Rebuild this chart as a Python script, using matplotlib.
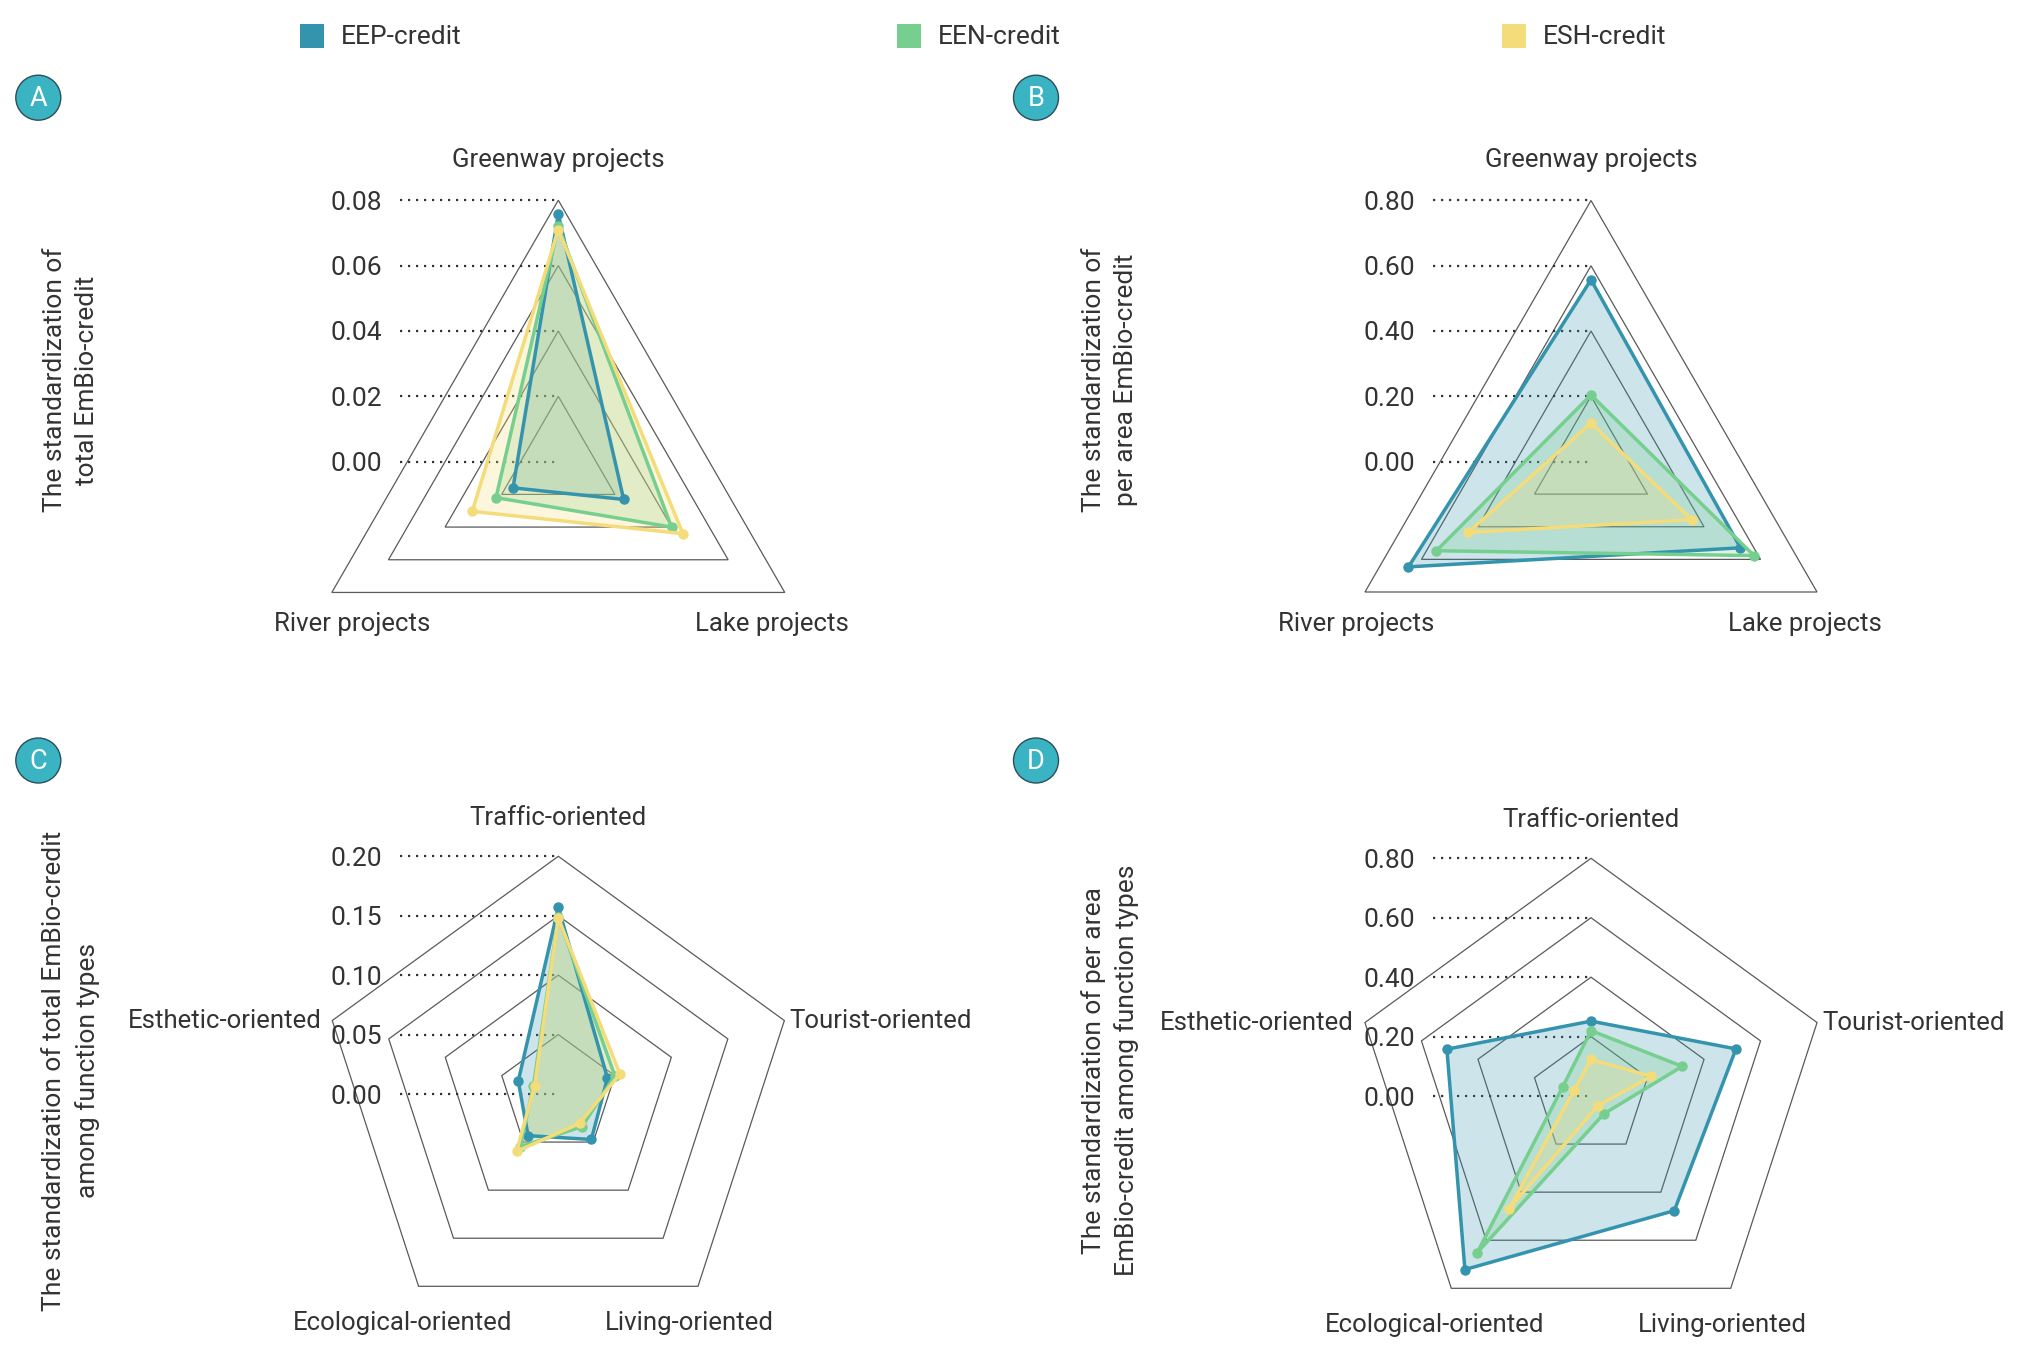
import numpy as np
import matplotlib
matplotlib.use("Agg")
import matplotlib.pyplot as plt
from matplotlib.patches import Circle, Rectangle, Polygon

plt.rcParams['font.family'] = ['Roboto', 'DejaVu Sans']

# ---------------- data ----------------
series_names = ["EEP-credit", "EEN-credit", "ESH-credit"]
series_colors = ["#3594ad", "#76cf8e", "#f5dc7a"]

proj_categories = ["Greenway projects", "River projects", "Lake projects"]
func_categories = ["Traffic-oriented", "Esthetic-oriented", "Ecological-oriented",
                   "Living-oriented", "Tourist-oriented"]

a_ticks = [0.00, 0.02, 0.04, 0.06, 0.08]
a_eep = [0.0757, 0.016, 0.0231]
a_een = [0.072, 0.022, 0.040]
a_esh = [0.071, 0.0304, 0.044]

b_ticks = [0.00, 0.20, 0.40, 0.60, 0.80]
b_eep = [0.557, 0.646, 0.529]
b_een = [0.204, 0.547, 0.577]
b_esh = [0.118, 0.435, 0.357]

c_ticks = [0.00, 0.05, 0.10, 0.15, 0.20]
c_eep = [0.157, 0.0354, 0.0433, 0.0473, 0.0435]
c_een = [0.149, 0.022, 0.055, 0.034, 0.050]
c_esh = [0.148, 0.021, 0.0598, 0.0305, 0.0545]

d_ticks = [0.00, 0.20, 0.40, 0.60, 0.80]
d_eep = [0.252, 0.51, 0.722, 0.477, 0.513]
d_een = [0.22, 0.10, 0.652, 0.074, 0.323]
d_esh = [0.123, 0.06, 0.471, 0.040, 0.214]

titles = {
    "A": "The standardization of\ntotal EmBio-credit",
    "B": "The standardization of\nper area EmBio-credit",
    "C": "The standardization of total EmBio-credit\namong function types",
    "D": "The standardization of per area\nEmBio-credit among function types",
}

W, H = 2027, 1359
fig = plt.figure(figsize=(W / 100, H / 100), dpi=100)
fig.patch.set_facecolor("white")

# overlay axes in pixel coordinates (for legend / badges / titles)
ov = fig.add_axes([0, 0, 1, 1])
ov.set_xlim(0, W)
ov.set_ylim(H, 0)
ov.axis("off")

TXT = "#333333"


def radar(letter, cx, cy, R, ticks, cats, series, title_pos, name_cfg):
    vmax = ticks[-1]
    S = R * 1.25
    ax = fig.add_axes([(cx - S) / W, 1 - (cy + S) / H, 2 * S / W, 2 * S / H])
    lim = vmax * S / R
    ax.set_xlim(-lim, lim)
    ax.set_ylim(-lim, lim)
    ax.axis("off")
    k = vmax / R  # value per pixel
    n = len(cats)
    ang = np.deg2rad(90 + 360.0 * np.arange(n) / n)
    # rings
    for t in ticks[1:]:
        pts = np.column_stack([t * np.cos(ang), t * np.sin(ang)])
        ax.add_patch(Polygon(pts, closed=True, fill=False, ec="#5a5a5a", lw=0.9,
                             zorder=1, clip_on=False))
    # dotted y-axis split lines + labels
    for t in ticks:
        ax.plot([-158 * k, -3 * k], [t, t], color="#333333", lw=1.6,
                linestyle=(0, (1, 2.6)), zorder=2, clip_on=False)
        ax.text(-176 * k, t - 2.5 * k, f"{t:.2f}", ha="right", va="center",
                fontsize=19, color=TXT, zorder=5)
    # series
    for vals, col in zip(series, series_colors):
        v = np.asarray(vals)
        xs = v * np.cos(ang)
        ys = v * np.sin(ang)
        ax.fill(np.append(xs, xs[0]), np.append(ys, ys[0]), color=col, alpha=0.25,
                lw=0, zorder=3, clip_on=False)
        ax.plot(np.append(xs, xs[0]), np.append(ys, ys[0]), color=col, lw=2.5,
                zorder=4, clip_on=False, solid_joinstyle="round")
        ax.plot(xs, ys, "o", color=col, ms=6.5, zorder=4, clip_on=False)
    # indicator names
    for name, (dx, dy, ha) in zip(cats, name_cfg):
        ax.text(dx * k, -dy * k, name, ha=ha, va="center", fontsize=18.5, color=TXT)
    # panel title (rotated)
    tx, ty = title_pos
    ov.text(tx, ty, titles[letter], rotation=90, ha="center", va="center",
            fontsize=19, color=TXT, linespacing=1.45)
    return ax


tri_names_a = [(0, -301.5, "center"), (-206, 162.5, "center"), (214, 162.5, "center")]
tri_names_b = [(0, -301.5, "center"), (-235, 162.5, "center"), (214, 162.5, "center")]
pent_names = [(0, -276, "center"), (-237, -73, "right"), (-156, 229, "center"),
              (131, 229, "center"), (231, -73, "left")]

radar("A", 558.3, 461.7, 261.5, a_ticks, proj_categories, [a_eep, a_een, a_esh],
      (71, 380), tri_names_a)
radar("B", 1591, 461.5, 261.0, b_ticks, proj_categories, [b_eep, b_een, b_esh],
      (1110, 380), tri_names_b)
radar("C", 558.3, 1094, 237.7, c_ticks, func_categories, [c_eep, c_een, c_esh],
      (71, 1071), pent_names)
radar("D", 1591, 1096, 237.7, d_ticks, func_categories, [d_eep, d_een, d_esh],
      (1110, 1070), pent_names)

# badges
for letter, (bx, by) in zip("ABCD", [(38.3, 97.7), (1036, 97.7), (38.3, 760.5), (1036, 760.5)]):
    ov.add_patch(Circle((bx, by), 22.5, fc="#3ab3c2", ec="#2b4f5a", lw=1.0, zorder=5))
    ov.text(bx, by + 1, letter, ha="center", va="center", fontsize=19.5,
            color="white", zorder=6)

# legend
for name, col, sx in zip(series_names, series_colors, [300, 897, 1502]):
    ov.add_patch(Rectangle((sx, 24.3), 24, 24, fc=col, ec="none"))
    ov.text(sx + 41, 37.5, name, ha="left", va="center", fontsize=19, color=TXT)

fig.savefig("out.png", dpi=100, facecolor="white")
